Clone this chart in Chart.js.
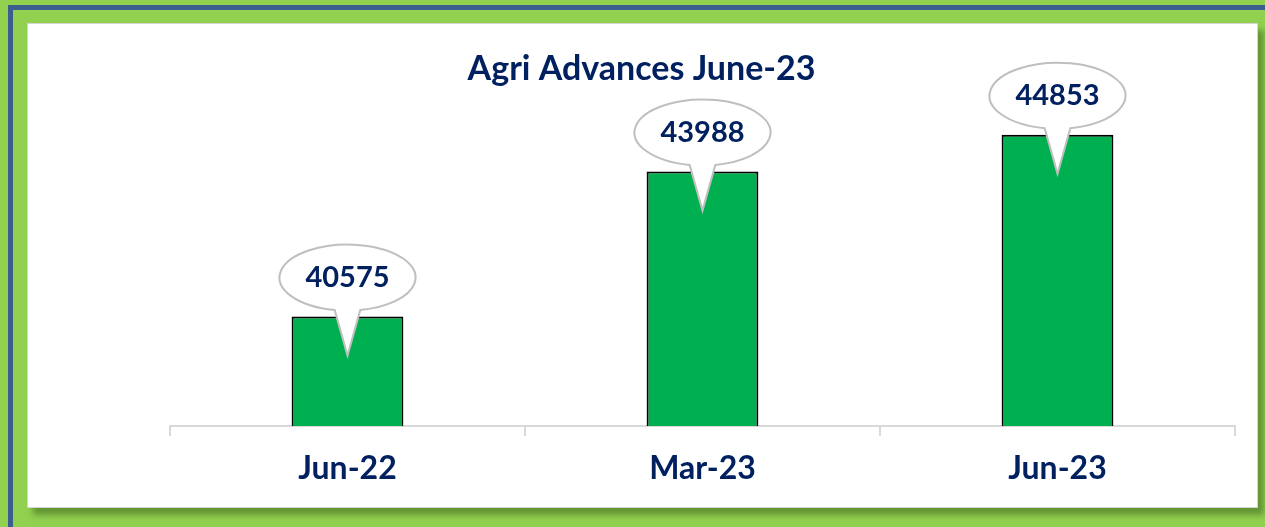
<!DOCTYPE html>
<html>
<head>
<meta charset="utf-8">
<script src="https://cdn.jsdelivr.net/npm/chart.js@4.4.0/dist/chart.umd.min.js"></script>
<style>
  html, body { margin:0; padding:0; width:1265px; height:527px; overflow:hidden; background:#92d050; }
  #blueTop { position:absolute; left:8px; top:5px; width:1257px; height:5px; background:#3a5f8f; border-radius:3px 0 0 0; }
  #blueLeft { position:absolute; left:8px; top:5px; width:5px; height:522px; background:#3a5f8f; }
  #panel {
    position:absolute; left:27px; top:23px; width:1229px; height:483px;
    background:#fff; border:1px solid #d4d4d4;
    box-shadow: 6px 7px 6px rgba(60,100,30,0.55);
  }
  #wrap { position:absolute; left:27px; top:23px; width:1231px; height:485px; }
</style>
</head>
<body>
<div id="blueTop"></div>
<div id="blueLeft"></div>
<div id="panel"></div>
<div id="wrap"><canvas id="agriChart"></canvas></div>
<script>
const categories = ['Jun-22', 'Mar-23', 'Jun-23'];
const advances = [40575, 43988, 44853];
const yMin = 38000;
const yMax = 46000;
const chartTitle = 'Agri Advances June-23';

const navy = '#002060';

// titre centré sur toute la zone blanche
const titlePlugin = {
  id: 'bigTitle',
  afterDraw(chart){
    const ctx = chart.ctx;
    ctx.save();
    ctx.fillStyle = navy;
    ctx.font = 'bold 34px Lato';
    ctx.textAlign = 'center';
    ctx.textBaseline = 'middle';
    ctx.fillText(chartTitle, chart.width/2 - 1, 46);
    ctx.restore();
  }
};

// bulles de valeurs au-dessus des barres
const calloutPlugin = {
  id: 'callouts',
  afterDatasetsDraw(chart){
    const ctx = chart.ctx;
    const meta = chart.getDatasetMeta(0);
    meta.data.forEach((bar, i) => {
      const cx = bar.x;
      const top = bar.y;
      const ey = top - 39;
      const rx = 68, ry = 33;
      const tipY = top + 39;
      ctx.save();
      ctx.beginPath();
      const a1 = Math.PI/2 + 0.19, a2 = Math.PI/2 - 0.19;
      ctx.ellipse(cx, ey, rx, ry, 0, a1, a2 + Math.PI*2, false);
      ctx.lineTo(cx, tipY);
      ctx.closePath();
      ctx.fillStyle = '#ffffff';
      ctx.fill();
      ctx.strokeStyle = '#bfbfbf';
      ctx.lineWidth = 2;
      ctx.stroke();
      ctx.fillStyle = navy;
      ctx.font = 'bold 29px Lato';
      ctx.textAlign = 'center';
      ctx.textBaseline = 'middle';
      ctx.fillText(String(advances[i]), cx, ey);
      ctx.restore();
    });
  }
};

new Chart(document.getElementById('agriChart').getContext('2d'), {
  type: 'bar',
  data: {
    labels: categories,
    datasets: [{
      data: advances,
      backgroundColor: '#00b050',
      borderColor: '#000000',
      borderWidth: 2,
      categoryPercentage: 1,
      barPercentage: 0.315
    }]
  },
  options: {
    responsive: true,
    maintainAspectRatio: false,
    animation: false,
    layout: { padding: { left: 143, right: 23, top: 63, bottom: 0 } },
    plugins: {
      legend: { display: false },
      tooltip: { enabled: false },
      title: { display: false }
    },
    scales: {
      x: {
        grid: { offset: true, drawOnChartArea: false, drawTicks: true, tickLength: 10, color: '#d9d9d9', lineWidth: 2 },
        border: { display: true, color: '#d9d9d9', width: 2 },
        ticks: { color: navy, font: { family: 'Lato', size: 32, weight: 'bold' }, padding: 13 },
        afterFit(scale){ scale.height = 82; }
      },
      y: {
        display: false,
        min: yMin,
        max: yMax
      }
    }
  },
  plugins: [calloutPlugin, titlePlugin]
});
</script>
</body>
</html>
